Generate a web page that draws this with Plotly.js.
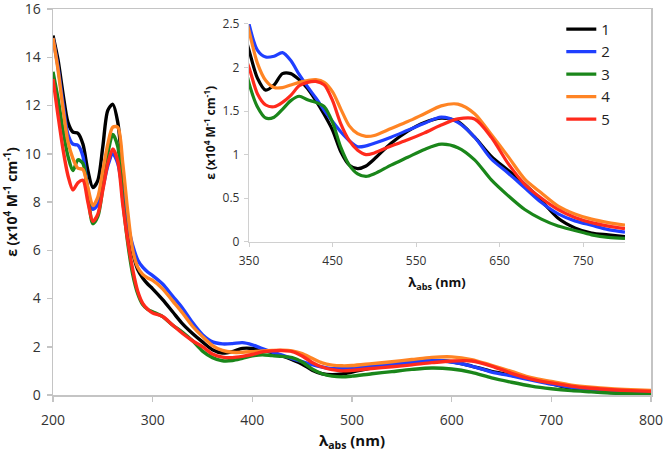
<!DOCTYPE html>
<html>
<head>
<meta charset="utf-8">
<script src="https://cdn.plot.ly/plotly-3.0.1.min.js"></script>
<style>html,body{margin:0;padding:0;background:#fff;}#chart{width:666px;height:452px;}</style>
</head>
<body>
<div id="chart"></div>
<script>
// Wavelength grid (nm)
const wavelength = [200,205,210,215,220,225,230,235,240,245,250,255,260,265,270,275,280,285,290,295,300,310,320,330,340,350,360,370,380,390,400,410,420,430,440,450,460,470,480,490,500,520,540,560,580,600,620,640,660,680,700,720,740,760,780,800];

// Molar absorptivity (x10^4 M^-1 cm^-1)
const eps1 = [14.9,13.9,12.5,11.3,10.9,10.85,10.4,9.3,8.6,8.9,10.3,11.8,12.05,11.3,9.2,7.0,5.9,5.2,4.85,4.6,4.4,3.95,3.45,2.95,2.55,2.2,1.88,1.74,1.8,1.93,1.93,1.86,1.76,1.62,1.46,1.28,1.03,0.88,0.84,0.87,0.95,1.13,1.27,1.37,1.42,1.38,1.2,0.98,0.82,0.66,0.47,0.27,0.16,0.1,0.08,0.06];
const eps2 = [14.8,13.6,12.1,10.8,10.4,10.35,9.9,8.5,7.7,7.9,8.6,9.5,10.0,9.6,8.4,7.1,6.2,5.6,5.3,5.1,4.95,4.6,4.1,3.6,3.0,2.5,2.2,2.12,2.13,2.17,2.08,1.92,1.78,1.65,1.51,1.38,1.26,1.16,1.09,1.1,1.13,1.2,1.28,1.36,1.43,1.37,1.2,0.95,0.79,0.62,0.45,0.32,0.24,0.19,0.14,0.11];
const eps3 = [13.4,12.3,11.0,9.9,9.3,9.75,9.6,8.3,7.1,7.4,8.6,10.0,10.8,10.3,8.1,6.3,5.0,4.2,3.75,3.55,3.45,3.25,2.9,2.6,2.25,1.82,1.55,1.42,1.43,1.52,1.62,1.67,1.63,1.6,1.55,1.37,1.08,0.88,0.78,0.75,0.78,0.88,0.97,1.06,1.12,1.08,0.94,0.71,0.53,0.37,0.26,0.18,0.13,0.08,0.05,0.04];
const eps4 = [14.8,13.5,11.9,10.5,9.8,9.4,9.35,8.6,7.85,8.2,9.3,10.4,11.1,11.1,9.6,7.6,6.0,5.3,5.0,4.85,4.75,4.4,3.9,3.4,2.85,2.42,2.05,1.85,1.77,1.77,1.8,1.83,1.85,1.86,1.83,1.72,1.52,1.33,1.24,1.21,1.22,1.3,1.38,1.47,1.56,1.58,1.47,1.23,0.98,0.72,0.56,0.41,0.32,0.26,0.22,0.19];
const eps5 = [13.1,11.6,10.2,9.1,8.5,8.8,8.9,8.0,7.2,7.5,8.5,9.6,10.2,9.7,7.9,6.4,5.2,4.3,3.8,3.55,3.4,3.25,2.9,2.55,2.25,2.0,1.7,1.57,1.55,1.6,1.68,1.79,1.83,1.84,1.8,1.62,1.35,1.16,1.05,1.0,1.02,1.1,1.17,1.25,1.34,1.41,1.41,1.2,0.9,0.66,0.5,0.37,0.28,0.22,0.18,0.15];

const seriesNames = ['1','2','3','4','5'];
const seriesData = [eps1, eps2, eps3, eps4, eps5];
const seriesColors = ['#000000','#1f3fff','#1a861a','#ff8424','#ff2a1c'];

const mainX = [200,300,400,500,600,700,800];
const mainY = [0,2,4,6,8,10,12,14,16];
const insetX = [350,450,550,650,750];
const insetY = [0,0.5,1,1.5,2,2.5];

const traces = [];
seriesData.forEach((ys, i) => {
  traces.push({
    x: wavelength, y: ys, type: 'scatter', mode: 'lines', name: seriesNames[i],
    line: {color: seriesColors[i], width: 3.4, shape: 'spline', smoothing: 0.8},
    xaxis: 'x', yaxis: 'y', showlegend: true, hoverinfo: 'skip'
  });
});
seriesData.forEach((ys, i) => {
  traces.push({
    x: wavelength, y: ys, type: 'scatter', mode: 'lines', name: seriesNames[i],
    line: {color: seriesColors[i], width: 3.2, shape: 'spline', smoothing: 0.8},
    xaxis: 'x2', yaxis: 'y2', showlegend: false, hoverinfo: 'skip'
  });
});

const FONT = 'Open Sans, Lato, sans-serif';
const layout = {
  width: 666, height: 452,
  margin: {l: 53, r: 15, t: 9, b: 57},
  paper_bgcolor: '#ffffff', plot_bgcolor: '#ffffff',
  font: {family: FONT, size: 14, color: '#333333'},
  showlegend: true,
  legend: {
    x: 0.85, y: 0.99, xanchor: 'left', yanchor: 'top',
    font: {family: FONT, size: 15, color: '#222'},
    bgcolor: 'rgba(0,0,0,0)', tracegroupgap: 0, itemwidth: 30
  },
  xaxis: {
    domain: [0, 1], range: [200, 800], tickvals: mainX, ticktext: mainX.map(String),
    showgrid: false, zeroline: false, showline: true, mirror: true,
    linecolor: '#c4c4c4', linewidth: 1.5,
    ticks: 'outside', ticklen: 5, tickcolor: '#c4c4c4', tickwidth: 1.5,
    ticklabelstandoff: 7, ticklabeloverflow: 'allow',
    tickfont: {family: FONT, size: 14, color: '#333'},
    title: {text: '<b>λ<sub>abs</sub> (nm)</b>', font: {family: FONT, size: 15, color: '#111'}, standoff: 9}
  },
  yaxis: {
    domain: [0, 1], range: [0, 16], tickvals: mainY, ticktext: mainY.map(String),
    showgrid: false, zeroline: false, showline: true, mirror: true,
    linecolor: '#c4c4c4', linewidth: 1.5,
    ticks: 'outside', ticklen: 5, tickcolor: '#c4c4c4', tickwidth: 1.5,
    ticklabelstandoff: 3, ticklabeloverflow: 'allow',
    tickfont: {family: FONT, size: 14, color: '#333'},
    title: {text: '<b>ε (x10<sup>4</sup> M<sup>-1</sup> cm<sup>-1</sup>)</b>', font: {family: FONT, size: 14, color: '#111'}, standoff: 4}
  },
  xaxis2: {
    domain: [0.3278, 0.9565], range: [350, 800], anchor: 'y2', tickvals: insetX, ticktext: insetX.map(String),
    showgrid: false, zeroline: false, showline: true, linecolor: '#d0d0d0', linewidth: 1.2,
    ticks: 'outside', ticklen: 4, tickcolor: '#d0d0d0',
    ticklabelstandoff: 4, ticklabeloverflow: 'allow',
    tickfont: {family: FONT, size: 12, color: '#333'},
    title: {text: '<b>λ<sub>abs</sub> (nm)</b>', font: {family: FONT, size: 13, color: '#111'}, standoff: 9}
  },
  yaxis2: {
    domain: [0.3969, 0.9613], range: [0, 2.5], anchor: 'x2', tickvals: insetY, ticktext: insetY.map(String),
    showgrid: false, zeroline: false, showline: true, linecolor: '#d0d0d0', linewidth: 1.2,
    ticks: 'outside', ticklen: 4, tickcolor: '#d0d0d0',
    ticklabelstandoff: 2, ticklabeloverflow: 'allow',
    tickfont: {family: FONT, size: 12, color: '#333'},
    title: {text: '<b>ε (x10<sup>4</sup> M<sup>-1</sup> cm<sup>-1</sup>)</b>', font: {family: FONT, size: 12, color: '#111'}, standoff: 4}
  }
};

Plotly.newPlot('chart', traces, layout, {staticPlot: true, displayModeBar: false});
</script>
</body>
</html>
